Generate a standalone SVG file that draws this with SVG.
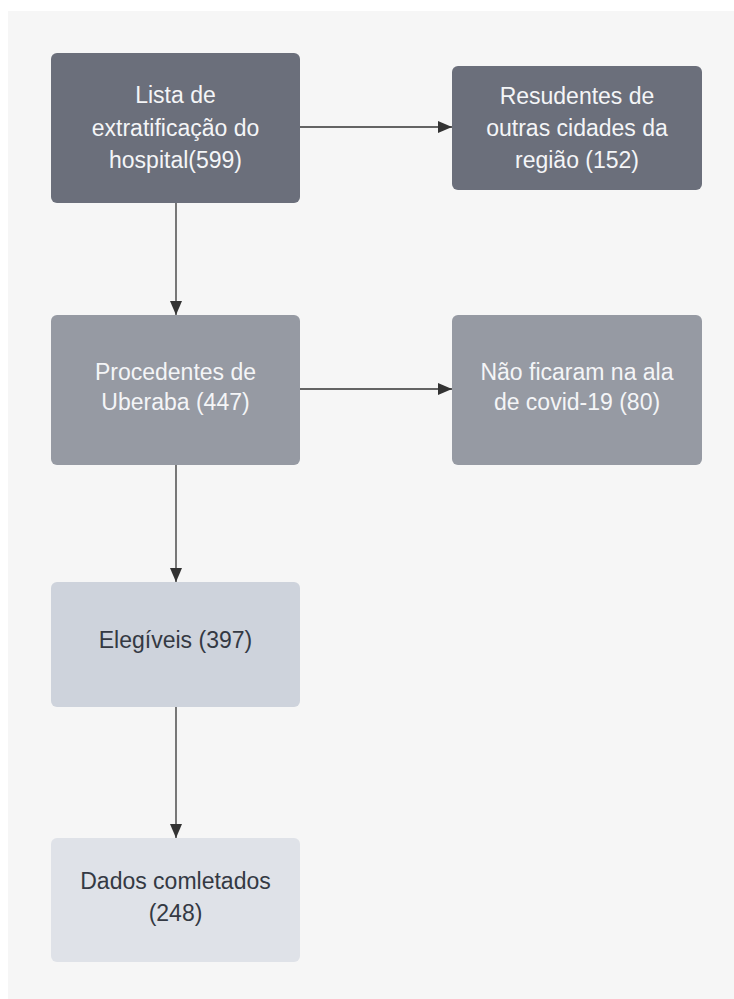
<svg xmlns="http://www.w3.org/2000/svg" width="734" height="999" viewBox="0 0 734 999">
<defs>
<marker id="ah" viewBox="0 0 14 12" refX="14" refY="6" markerWidth="14" markerHeight="12" markerUnits="userSpaceOnUse" orient="auto">
<path d="M0,0 L14,6 L0,12 z" fill="#333333"/>
</marker>
<style>
.bg{fill:#f6f6f6}
.n rect{rx:6;ry:6}
.dark rect{fill:#6b6f7b}
.mid rect{fill:#969aa3}
.light rect{fill:#ced3dc}
.lighter rect{fill:#dfe2e8}
text{font-family:"Liberation Sans",Arial,sans-serif;font-size:23px;text-anchor:middle}
.dark text,.mid text{fill:#f4f5f7}
.light text,.lighter text{fill:#343943}
.edges path{stroke:#333333;stroke-width:1.3;fill:none;marker-end:url(#ah)}
</style>
</defs>
<rect class="bg" x="8" y="11" width="726" height="988"/>
<g class="edges">
<path d="M176,203 L176,315"/>
<path d="M300,127 L452,127"/>
<path d="M300,389 L452,389"/>
<path d="M176,465 L176,582"/>
<path d="M176,707 L176,838"/>
</g>
<g id="n1" class="n dark">
<rect x="51" y="53" width="249" height="150"/>
<text x="175.5" y="103">Lista de</text>
<text x="175.5" y="136">extratificação do</text>
<text x="175.5" y="168">hospital(599)</text>
</g>
<g id="n2" class="n dark">
<rect x="452" y="66" width="250" height="124"/>
<text x="577" y="104">Resudentes de</text>
<text x="577" y="136">outras cidades da</text>
<text x="577" y="168">região (152)</text>
</g>
<g id="n3" class="n mid">
<rect x="51" y="315" width="249" height="150"/>
<text x="175.5" y="380">Procedentes de</text>
<text x="175.5" y="410">Uberaba (447)</text>
</g>
<g id="n4" class="n mid">
<rect x="452" y="315" width="250" height="150"/>
<text x="577" y="380">Não ficaram na ala</text>
<text x="577" y="410">de covid-19 (80)</text>
</g>
<g id="n5" class="n light">
<rect x="51" y="582" width="249" height="125"/>
<text x="175.5" y="648">Elegíveis (397)</text>
</g>
<g id="n6" class="n lighter">
<rect x="51" y="838" width="249" height="124"/>
<text x="175.5" y="889">Dados comletados</text>
<text x="175.5" y="921">(248)</text>
</g>
</svg>
